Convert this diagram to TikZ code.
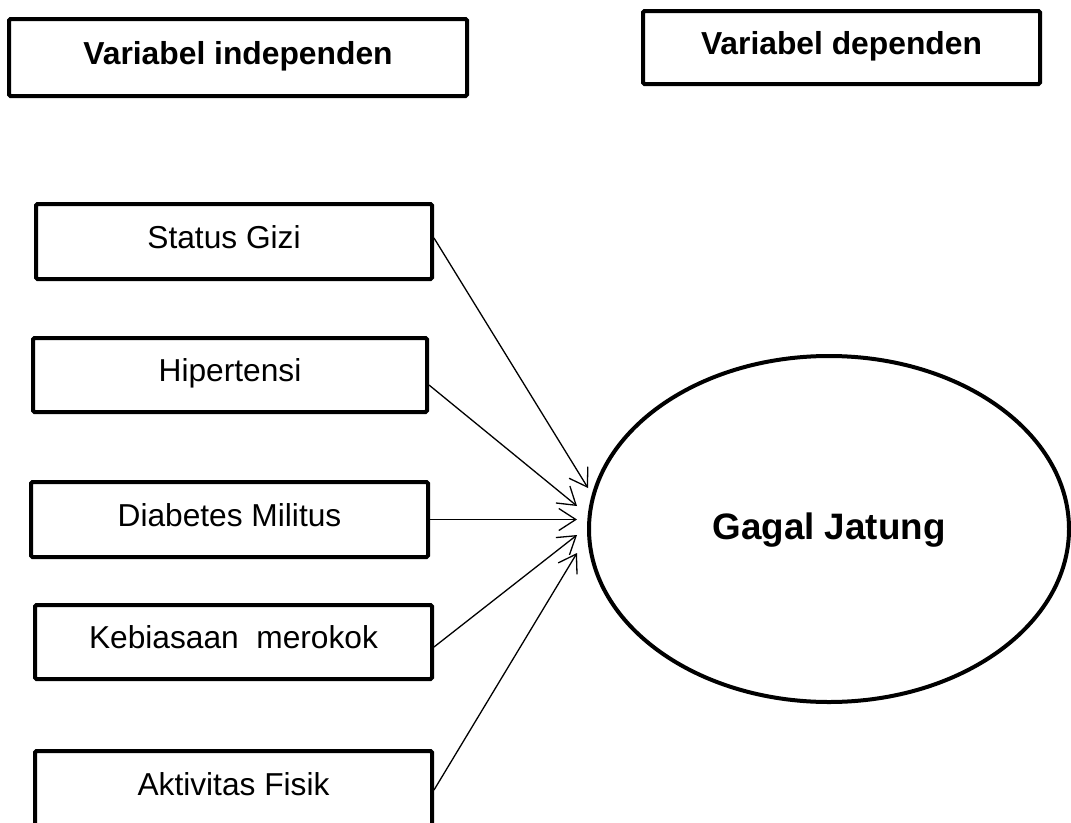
\documentclass[tikz,border=0pt]{standalone}
\usepackage{fontspec}
\setmainfont{Liberation Sans}
\usetikzlibrary{arrows.meta,shapes.geometric}
\begin{document}
\begin{tikzpicture}[x=1pt,y=-1pt,
  box/.style={draw,line width=4pt,rounded corners=1.5pt,inner sep=0pt,
    text height=23pt,text depth=10pt,font=\fontsize{31.7}{38}\selectfont},
  headbox/.style={box,font=\fontsize{31.8}{38}\selectfont\bfseries},
  link/.style={line width=1.3pt,-{Straight Barb[length=17pt,width=22pt,line width=1.3pt]}}]
\useasboundingbox (0,0) rectangle (1071,822);
\node[headbox,minimum width=458pt,minimum height=77pt] (ind) at (238,57.5) {Variabel independen};
\node[headbox,minimum width=397pt,minimum height=73pt] (dep) at (841.5,47.5) {Variabel dependen};
\node[box,minimum width=396pt,minimum height=75pt] (sg) at (234,241.5) {Status Gizi\hspace*{20pt}};
\node[box,minimum width=394pt,minimum height=74pt] (hp) at (230,375) {Hipertensi};
\node[box,minimum width=397pt,minimum height=75pt] (dm) at (229.5,519.5) {Diabetes Militus};
\node[box,minimum width=397pt,minimum height=74pt] (kb) at (233.5,642) {Kebiasaan\ \ merokok};
\node[box,minimum width=397pt,minimum height=75pt] (ak) at (233.5,788.5) {Aktivitas Fisik};
\node[draw,ellipse,line width=4pt,minimum width=480pt,minimum height=346pt,inner sep=0pt,
  text height=26.5pt,text depth=6pt,font=\fontsize{36.8}{44}\selectfont\bfseries] (gj) at (829,529) {Gagal Jatung};
\coordinate (t1) at (588,488);
\coordinate (t2) at (577,506);
\coordinate (t3) at (577,519.5);
\coordinate (t4) at (577,535);
\coordinate (t5) at (577,553);
\draw[link] ([yshift=3.5pt]sg.east) -- (t1);
\draw[link] ([yshift=-10pt]hp.east) -- (t2);
\draw[link] (dm.east) -- (t3);
\draw[link] ([yshift=-5pt]kb.east) -- (t4);
\draw[link] ([yshift=-1.5pt]ak.east) -- (t5);
\end{tikzpicture}
\end{document}
